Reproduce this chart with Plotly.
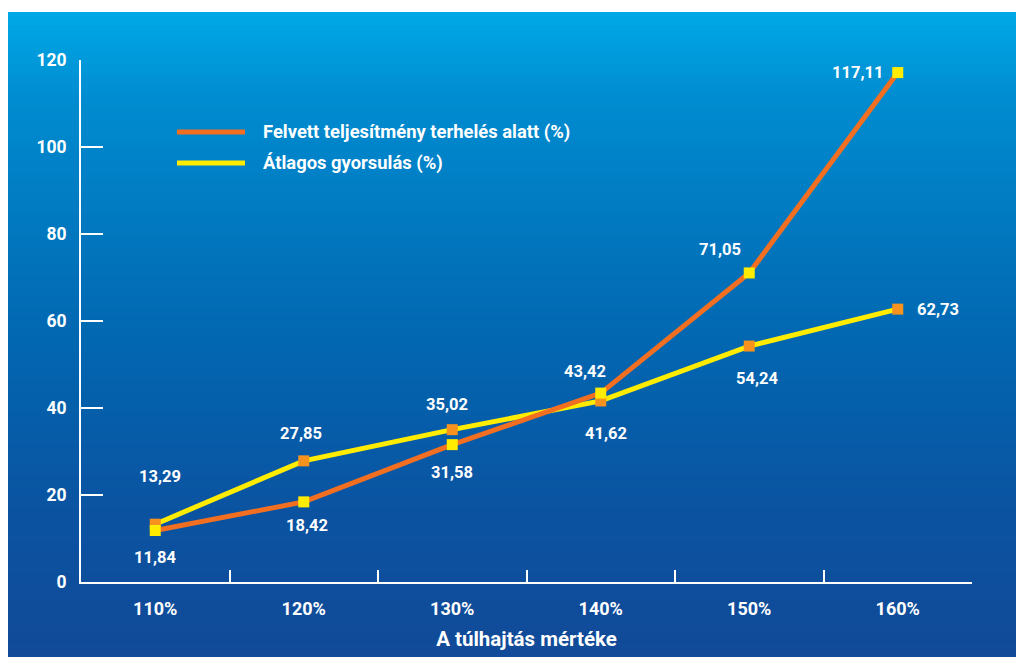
import plotly.graph_objects as go

categories = ["110%", "120%", "130%", "140%", "150%", "160%"]
felvett = [11.84, 18.42, 31.58, 43.42, 71.05, 117.11]
atlagos = [13.29, 27.85, 35.02, 41.62, 54.24, 62.73]
series_names = ["Felvett teljesítmény terhelés alatt (%)", "Átlagos gyorsulás (%)"]
x_title = "A túlhajtás mértéke"
y_ticks = [0, 20, 40, 60, 80, 100, 120]

# label offsets (pixels) relative to each point
felvett_off = [(0, -27), (3, -24), (0, -28), (-16, 22), (-29, 23), (-40, 0)]
atlagos_off = [(5, 48), (-3, 27), (-5, 25), (5, -33), (8, -32), (40, 0)]

ORANGE_LINE = "#F26F21"
ORANGE_MARK = "#F7921E"
YELLOW = "#FFEC00"
FONT = "Roboto"

# page has an 8px body margin: figure occupies screen (8..1024, 8..657)
OFF = 8
W, H = 1024 - OFF, 657 - OFF
# plot area in screen coords: x 81..972, y 60..582
L, R, T, B = 81 - OFF, 1024 - 972, 60 - OFF, 657 - 582
pw, ph = W - L - R, H - T - B

def px2paper(x, y):
    # screen coords -> paper coords
    return (x - OFF - L) / pw, (H - B - (y - OFF)) / ph

fig = go.Figure()
fig.add_trace(go.Scatter(
    x=categories, y=atlagos, mode="lines+markers", name=series_names[1],
    line=dict(color=YELLOW, width=5),
    marker=dict(symbol="square", size=11, color=ORANGE_MARK),
    showlegend=False))
fig.add_trace(go.Scatter(
    x=categories, y=felvett, mode="lines+markers", name=series_names[0],
    line=dict(color=ORANGE_LINE, width=5),
    marker=dict(symbol="square", size=11, color=YELLOW),
    showlegend=False))

annotations = []
for vals, offs in ((felvett, felvett_off), (atlagos, atlagos_off)):
    for c, v, (dx, dy) in zip(categories, vals, offs):
        annotations.append(dict(
            x=c, y=v, xref="x", yref="y", text=f"{v:.2f}".replace(".", ","),
            showarrow=False, xshift=dx, yshift=dy,
            font=dict(family=FONT, size=16.5, color="white", weight="bold")))

# gradient background (screen y -> colour)
stops = [(12, (0, 168, 230)), (100, (0, 140, 208)), (330, (2, 104, 178)),
         (500, (10, 84, 162)), (657, (17, 74, 152))]
shapes = []
def col_at(y):
    for (y0, c0), (y1, c1) in zip(stops[:-1], stops[1:]):
        if y0 <= y <= y1:
            t = (y - y0) / (y1 - y0)
            return tuple(round(a + (b - a) * t) for a, b in zip(c0, c1))
    return stops[-1][1]
n = 100
x0, _ = px2paper(8, 0)
x1, _ = px2paper(1024, 0)
_, ybot = px2paper(0, 657)
for i in range(n):
    ya = 12 + (657 - 12) * i / n
    yb = 12 + (657 - 12) * (i + 1) / n
    c = col_at((ya + yb) / 2)
    _, ytop = px2paper(0, ya)
    shapes.append(dict(type="rect", xref="paper", yref="paper", x0=x0, x1=x1,
                       y0=ybot, y1=ytop, fillcolor=f"rgb{c}", line=dict(width=0),
                       layer="below"))

# manual legend
for name, color, yy in ((series_names[0], ORANGE_LINE, 132), (series_names[1], YELLOW, 163)):
    xa, ya = px2paper(177, yy)
    xb, _ = px2paper(245, yy)
    shapes.append(dict(type="line", xref="paper", yref="paper", x0=xa, x1=xb,
                       y0=ya, y1=ya, line=dict(color=color, width=5)))
    xt, _ = px2paper(261, yy)
    annotations.append(dict(x=xt, y=ya, xref="paper", yref="paper", text=name,
                            xanchor="left", yanchor="middle", showarrow=False,
                            font=dict(family=FONT, size=18.4, color="white", weight="bold")))

fig.update_layout(
    width=W, height=H, margin=dict(l=L, r=R, t=T, b=B, autoexpand=False),
    paper_bgcolor="white", plot_bgcolor="rgba(0,0,0,0)",
    shapes=shapes, annotations=annotations, showlegend=False,
    xaxis=dict(type="category", categoryorder="array", categoryarray=categories,
               range=[-0.5, 5.5], showgrid=False, zeroline=False, automargin=False,
               showline=True, linecolor="white", linewidth=2,
               ticks="inside", tickson="boundaries", ticklen=12, tickwidth=2,
               tickcolor="white", ticklabelstandoff=9,
               tickfont=dict(family=FONT, size=18, color="white", weight="bold"),
               title=dict(text=x_title, standoff=14,
                          font=dict(family=FONT, size=20.5, color="white", weight="bold"))),
    yaxis=dict(range=[0, 120], tickvals=y_ticks, showgrid=False, zeroline=False, automargin=False,
               showline=True, linecolor="white", linewidth=2,
               ticks="inside", ticklen=22, tickwidth=2, tickcolor="white",
               ticklabelstandoff=9,
               tickfont=dict(family=FONT, size=17.5, color="white", weight="bold")),
)

fig.write_html("out.html")
